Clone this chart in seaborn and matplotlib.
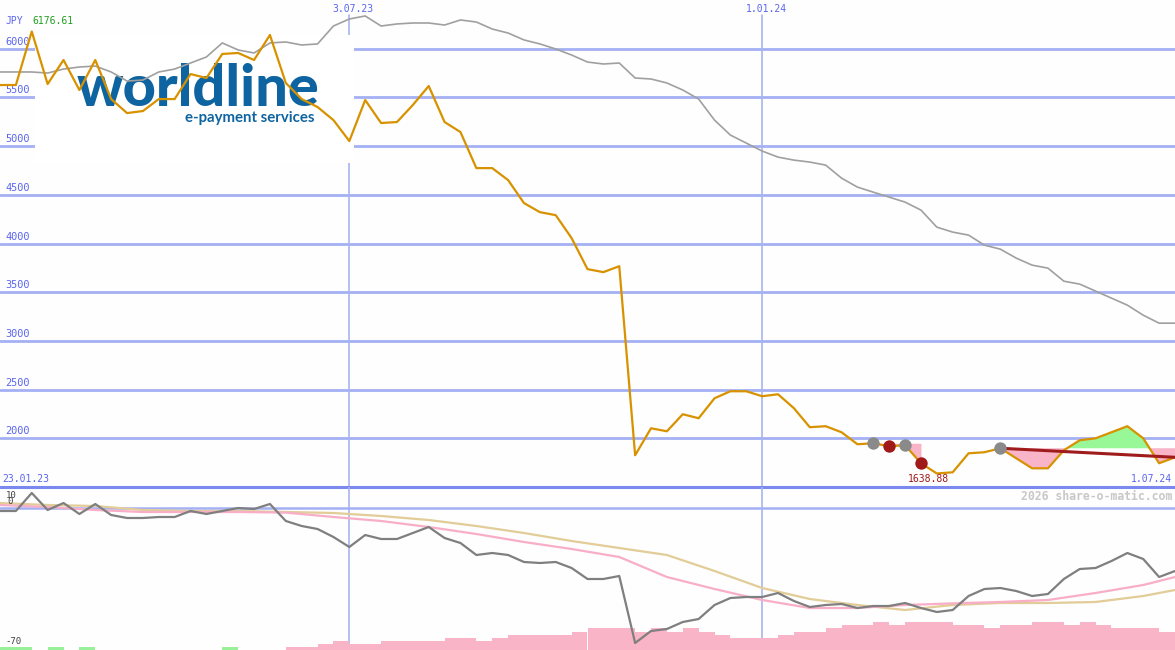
import pandas as pd
import matplotlib
matplotlib.use("Agg")
import matplotlib.pyplot as plt
import matplotlib.dates as mdates
from matplotlib.patches import Rectangle
import seaborn as sns

# weekly closes (JPY) and the grey comparison line
dates = pd.date_range("2023-01-30", periods=75, freq="7D")
price = [5627, 5627, 6176.61, 5637, 5884, 5576, 5884, 5483, 5339, 5360,
         5483, 5483, 5740, 5699, 5946, 5956, 5884, 6141, 5648, 5483,
         5401, 5267, 5052, 5473, 5237, 5247, 5422, 5617, 5247, 5144,
         4774, 4774, 4651, 4415, 4322, 4291, 4055, 3737, 3706, 3767,
         1826, 2103, 2072, 2247, 2206, 2411, 2483, 2483, 2432, 2452,
         2309, 2114, 2124, 2062, 1939, 1949, 1918, 1929, 1744, 1638.88,
         1651, 1846, 1857, 1898, 1795, 1692, 1692, 1877, 1980, 2000,
         2062, 2124, 2000, 1744, 1805]
bench = [5761, 5761, 5761, 5750, 5791, 5812, 5822, 5761, 5668, 5678,
         5761, 5791, 5853, 5915, 6059, 5987, 5956, 6059, 6069, 6038,
         6049, 6233, 6305, 6336, 6233, 6254, 6264, 6264, 6243, 6295,
         6274, 6202, 6161, 6090, 6049, 5997, 5935, 5863, 5843, 5853,
         5699, 5689, 5648, 5576, 5483, 5267, 5113, 5031, 4949, 4887,
         4856, 4836, 4805, 4671, 4579, 4527, 4476, 4425, 4343, 4168,
         4117, 4086, 3983, 3942, 3850, 3778, 3747, 3613, 3583, 3511,
         3439, 3367, 3264, 3182, 3182]

# lower panel: relative strength and its two averages
rel = [-1.5, -1.5, 7.5, -1, 2.5, -3, 2, -3.5, -5, -5,
       -4.5, -4.5, -1.5, -3, -1.5, 0, -0.5, 2, -6.5, -9,
       -10.5, -14.5, -19.5, -13.5, -15.5, -15.5, -12.5, -9.5, -15, -17.5,
       -23.5, -22.5, -23.5, -27, -27.5, -27, -30, -35.5, -35.5, -34,
       -67.5, -61.5, -60.5, -57, -55.5, -48.5, -45, -44.5, -44.5, -42.5,
       -46.5, -49.5, -48.5, -48, -50, -49, -49, -47.5, -50, -52,
       -51, -44, -40.5, -40, -41.5, -44, -43, -35.5, -30.5, -30,
       -26.5, -22.5, -25.5, -34.5, -31.5]
avg_idx = [0, 3, 6, 9, 12, 15, 18, 21, 24, 27, 30, 33, 36, 39, 42, 45,
           48, 51, 54, 57, 60, 63, 66, 69, 72, 74]
avg_slow = [2.5, 1.5, 1, -1, -1.5, -1.5, -2, -2.5, -4, -6, -9, -12.5, -16.5,
            -20, -23.5, -31.5, -40, -45.5, -48.5, -51, -48.5, -47.5, -47.5,
            -47, -44, -41]
avg_fast = [1.5, 0.5, -1, -2, -2, -2, -2.3, -4.5, -6.5, -9.5, -13, -17, -20.5,
            -24.5, -34.5, -40.5, -46, -50, -50, -48.5, -47.7, -47, -46, -42.5,
            -38.5, -34.5]
# weekly bars: + green, - pink
bars = [1, 1, 0, 1, 0, 1, 0, 0, 0, 0, 0, 0, 0, 0, 1, 0, 0, 0, -1, -1,
        -2, -3, -2, -2, -3, -3, -3, -3, -4, -4, -3, -4, -5, -5, -5, -5, -6, -7, -7, -7,
        -6, -7, -6, -7, -6, -5, -4, -4, -4, -5, -6, -6, -7, -8, -8, -9, -8, -9, -9, -9,
        -8, -8, -7, -8, -8, -9, -9, -8, -9, -8, -7, -7, -7, -6]

grid_levels = [2000, 2500, 3000, 3500, 4000, 4500, 5000, 5500, 6000]
signal_grey = [55, 57, 63]
signal_red = [56, 58]
zone1 = (55, 58)
zone2 = (63, 74)
trend_end = 1805

x = mdates.date2num(dates)

sns.set_style("white")
plt.rcParams["font.family"] = ["DejaVu Sans Mono"]

W, H = 1175, 650
fig = plt.figure(figsize=(W / 100, H / 100), dpi=100, facecolor="#fdfefd")
ax = fig.add_axes([0, 163 / H, 1, 487 / H])
lo = fig.add_axes([0, 0, 1, 163 / H])
osc = lo.twinx()
for a in (ax, lo, osc):
    a.axis("off")

def fx(px):
    return px / W

def fy(py):
    return 1 - py / H

grid_c = "#a4b0f4"
blue_txt = "#5a64f0"

# ---- main panel
ax.set_xlim(x[0], x[-1])
ax.set_ylim(1500, 6500)
for lv in grid_levels:
    ax.axhline(lv, color=grid_c, lw=2, zorder=1)
    ax.text(fx(5), lv + 20, str(lv), transform=ax.get_yaxis_transform(),
            fontsize=7.4, color=blue_txt, va="bottom", ha="left", zorder=1)
ax.axhline(1500, color="#7a88f0", lw=2.2, zorder=6, clip_on=False)
for d in ("2023-07-03", "2024-01-01"):
    ax.axvline(mdates.date2num(pd.Timestamp(d)), ymax=1 - 15 / 487, color="#a8b4f0", lw=1.2, zorder=1)

# white logo box + logo
ax.add_patch(Rectangle((35 / W, 1 - 163 / 487), (354 - 35) / W, 128 / 487,
                       transform=ax.transAxes, facecolor="white", edgecolor="none", zorder=2))
ax.text(fx(77), fy(106), "worldline", transform=fig.transFigure, fontsize=41.5,
        family=["Lato", "DejaVu Sans"], weight="black",
        color="#0d64a0", va="baseline", ha="left", zorder=3)
ax.text(fx(185), fy(122), "e-payment services", transform=fig.transFigure, fontsize=10.8,
        family=["Lato", "DejaVu Sans"], weight="bold",
        color="#0d64a0", va="baseline", ha="left", zorder=3)

# signal zones
for (i0, i1) in (zone1, zone2):
    lvl = price[i0]
    xs = x[i0:i1 + 1]
    ys = price[i0:i1 + 1]
    ax.fill_between(xs, ys, lvl, where=[v <= lvl for v in ys], interpolate=True,
                    color="#f9b4c8", lw=0, zorder=3.5)
    ax.fill_between(xs, ys, lvl, where=[v >= lvl for v in ys], interpolate=True,
                    color="#98f898", lw=0, zorder=3.5)

sns.lineplot(x=x, y=bench, ax=ax, color="#a0a0a0", linewidth=1.2, zorder=4)
sns.lineplot(x=x, y=price, ax=ax, color="#d89200", linewidth=1.6, zorder=5)
ax.plot([x[zone2[0]], x[zone2[1]]], [price[zone2[0]], trend_end], color="#a01c1c", lw=2.2, zorder=5.5)
ax.scatter([x[i] for i in signal_grey], [price[i] for i in signal_grey], s=80, color="#8a8a8a", zorder=6, lw=0)
ax.scatter([x[i] for i in signal_red], [price[i] for i in signal_red], s=80, color="#a01a1a", zorder=6, lw=0)

# texts
fig.text(fx(5), fy(21), "JPY", fontsize=7, color=blue_txt, va="center")
fig.text(fx(32), fy(21), f"{max(price):.2f}", fontsize=7, color="#20a020", va="center")
fig.text(fx(353), fy(9), "3.07.23", fontsize=7, color=blue_txt, va="center", ha="center")
fig.text(fx(766), fy(9), "1.01.24", fontsize=7, color=blue_txt, va="center", ha="center")
fig.text(fx(2), fy(479), "23.01.23", fontsize=7, color=blue_txt, va="center")
fig.text(fx(1172), fy(479), "1.07.24", fontsize=7, color=blue_txt, va="center", ha="right")
fig.text(fx(928), fy(479), f"{min(price):.2f}", fontsize=7, color="#a01818", va="center", ha="center")
fig.text(fx(1172), fy(496), "2026 share-o-matic.com", fontsize=8.3, color="#c8c8c8",
         weight="bold", va="center", ha="right")

# ---- lower panel
lo.set_xlim(x[0], x[-1])
lo.set_ylim(0, 53)
osc.set_ylim(-71, 10.5)
for d in ("2023-07-03", "2024-01-01"):
    lo.axvline(mdates.date2num(pd.Timestamp(d)), color="#a8b4f0", lw=1.2, zorder=1)
lo.bar(x[:-1], [abs(b) for b in bars], width=7, align="edge",
       color=["#98f098" if b > 0 else "#f9b4c8" for b in bars], lw=0, zorder=2)
osc.axhline(0, color=grid_c, lw=1.8, zorder=1)
sns.lineplot(x=[x[i] for i in avg_idx], y=avg_slow, ax=osc, color="#e2cc98", linewidth=1.6, zorder=3)
sns.lineplot(x=[x[i] for i in avg_idx], y=avg_fast, ax=osc, color="#f8aec6", linewidth=1.6, zorder=3)
sns.lineplot(x=x, y=rel, ax=osc, color="#7f7f7f", linewidth=1.6, zorder=4)
osc.set_xlim(x[0], x[-1])

fig.text(fx(6), fy(495), "10", fontsize=6.5, color="#404040", va="center")
fig.text(fx(7), fy(502), "0", fontsize=6.5, color="#404040", va="center")
fig.text(fx(5), fy(642), "-70", fontsize=6.5, color="#404040", va="center")

fig.savefig("out.png", dpi=100, facecolor=fig.get_facecolor())
